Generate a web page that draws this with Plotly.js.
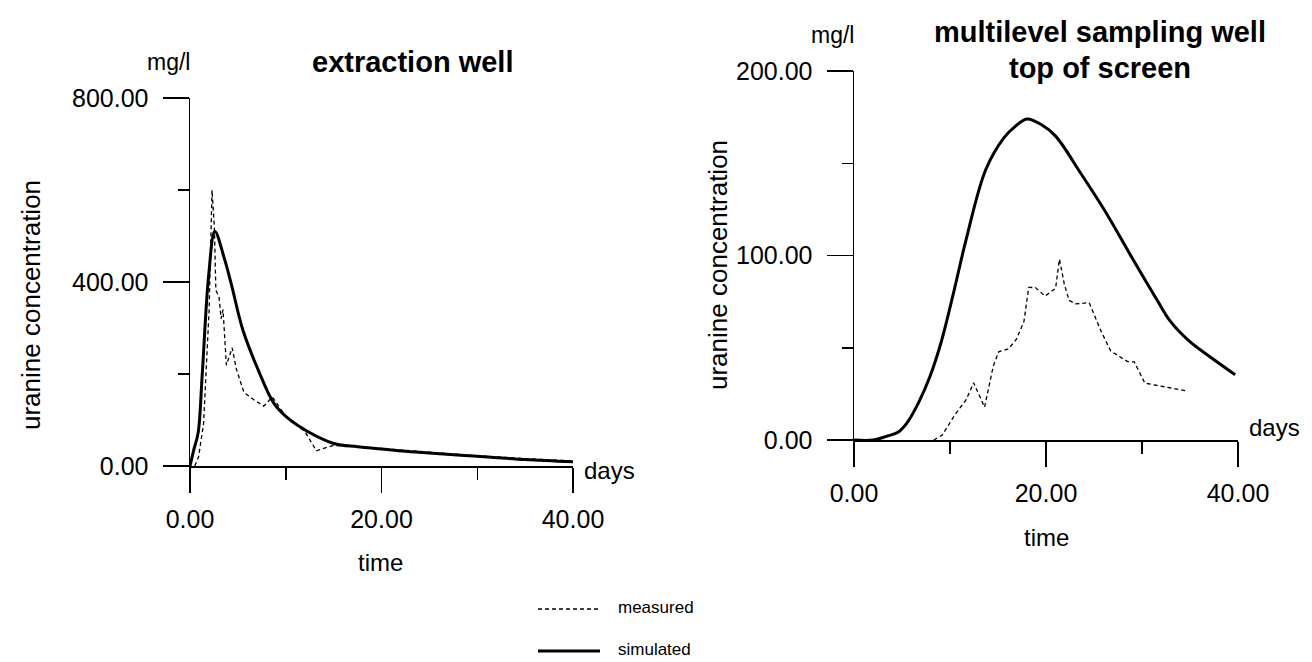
<!DOCTYPE html>
<html><head><meta charset="utf-8">
<script src="https://cdn.plot.ly/plotly-3.0.1.min.js"></script>
<style>html,body{margin:0;padding:0;background:#fff;}#chart{width:1312px;height:662px;}</style>
</head><body><div id="chart"></div>
<script>
// Extraction well (left panel)
const extMeasuredDays = [0.5, 0.9, 1.42, 1.7, 2.0, 2.3, 2.55, 2.7, 3.03, 3.25, 3.45, 3.8, 4.4, 4.84, 5.63, 6.6, 7.7, 8.6, 10.1, 12.0, 13.2, 15, 17.5, 20, 25, 30, 35, 40];
const extMeasuredConc = [0, 20, 93, 200, 341, 600, 517, 382, 368, 320, 340, 219, 257, 211, 160, 145, 130, 150, 105, 75, 33, 45, 42, 38, 30, 22, 16, 11];
const extSimDays = [0, 0.42, 0.85, 1.28, 1.94, 2.6, 3.56, 4.32, 5.53, 7.14, 8.77, 10.1, 12.2, 15, 17.5, 20, 22.5, 25, 30, 35, 40];
const extSimConc = [0, 37, 72, 200, 412, 510, 453, 395, 295, 208, 136, 106, 76, 49, 42, 37, 32, 28, 21, 14, 9];

// Multilevel sampling well, top of screen (right panel)
const mlsMeasuredDays = [8.3, 9.2, 10.55, 11.67, 12.46, 13.6, 14.5, 15.07, 16.1, 16.9, 17.7, 18.2, 18.9, 19.9, 21.0, 21.4, 21.9, 22.4, 23.06, 24.5, 25.8, 26.75, 28.5, 29.2, 30.3, 34.5];
const mlsMeasuredConc = [0, 2.7, 14, 21.7, 31, 17.8, 39.9, 47.8, 49.4, 54.5, 64.2, 82.7, 82.6, 78, 82.2, 98, 84.7, 75.7, 73.8, 74.4, 58.2, 48.2, 42.5, 42.3, 30.8, 26.8];
const mlsSimDays = [0, 2, 3.37, 4.63, 5.56, 6.7, 7.88, 9.1, 10.37, 11.65, 13.73, 15.65, 16.8, 18.0, 19.5, 21, 23.6, 26.3, 28.9, 31.6, 32.9, 34.9, 37, 39.7];
const mlsSimConc = [0, 0, 2, 4.4, 9.6, 20, 34, 53.4, 79.8, 108, 146.6, 164, 170, 174, 171, 164.7, 144.7, 122.8, 99.3, 75.6, 64.7, 53.7, 45.4, 35.4];

const W = 1312, H = 662;
const PX = x => x / W;
const PY = y => 1 - y / H;
const FONT = 'Liberation Sans, Arial, sans-serif';

const dashStyle = {color: '#000', width: 1.3, dash: '4px,3px'};
const solidStyle = {color: '#000', width: 3, shape: 'spline', smoothing: 1};

const traces = [
  {x: extMeasuredDays, y: extMeasuredConc, xaxis: 'x', yaxis: 'y', mode: 'lines', line: dashStyle, name: 'measured'},
  {x: extSimDays, y: extSimConc, xaxis: 'x', yaxis: 'y', mode: 'lines', line: solidStyle, name: 'simulated'},
  {x: mlsMeasuredDays, y: mlsMeasuredConc, xaxis: 'x2', yaxis: 'y2', mode: 'lines', line: dashStyle, name: 'measured'},
  {x: mlsSimDays, y: mlsSimConc, xaxis: 'x2', yaxis: 'y2', mode: 'lines', line: solidStyle, name: 'simulated'}
];

function xAxis(domain, anchor) {
  return {
    domain: domain, anchor: anchor, range: [0, 40], tick0: 0, dtick: 20,
    tickformat: '.2f', showline: true, linecolor: '#000', linewidth: 1.5,
    ticks: 'outside', ticklen: 25, tickwidth: 1.5, tickcolor: '#000', ticklabelstandoff: 5,
    minor: {dtick: 10, ticks: 'outside', ticklen: 12, tickwidth: 1.5, tickcolor: '#000'},
    showgrid: false, zeroline: false, fixedrange: true,
    tickfont: {family: FONT, size: 25, color: '#000'}
  };
}
function yAxis(domain, anchor, max, dt) {
  return {
    domain: domain, anchor: anchor, range: [0, max], tick0: 0, dtick: dt,
    tickformat: '.2f', showline: true, linecolor: '#000', linewidth: 1.5,
    ticks: 'outside', ticklen: 26, tickwidth: 1.5, tickcolor: '#000', ticklabelstandoff: 9,
    minor: {dtick: dt / 2, ticks: 'outside', ticklen: 11, tickwidth: 1.5, tickcolor: '#000'},
    showgrid: false, zeroline: false, fixedrange: true,
    tickfont: {family: FONT, size: 25, color: '#000'}
  };
}

function txt(text, x, y, size, opts) {
  return Object.assign({text: text, x: PX(x), y: PY(y), xref: 'paper', yref: 'paper',
    showarrow: false, xanchor: 'center', yanchor: 'middle',
    font: {family: FONT, size: size, color: '#000'}}, opts || {});
}

const annotations = [
  txt('mg/l', 168, 62, 23),
  txt('<b>extraction well</b>', 413, 62, 29),
  txt('days', 582, 470, 24, {xanchor: 'left'}),
  txt('time', 380, 562, 24),
  txt('uranine concentration', 31, 305, 26, {textangle: -90}),
  txt('mg/l', 832, 35, 23),
  txt('<b>multilevel sampling well</b>', 1100, 32, 29),
  txt('<b>top of screen</b>', 1100, 68, 29),
  txt('days', 1247, 428, 24, {xanchor: 'left'}),
  txt('time', 1046, 537, 24),
  txt('uranine concentration', 718, 265, 26, {textangle: -90}),
  txt('measured', 616, 607, 17, {xanchor: 'left'}),
  txt('simulated', 616, 649, 17, {xanchor: 'left'})
];

const shapes = [
  {type: 'line', xref: 'paper', yref: 'paper', x0: PX(538), x1: PX(600), y0: PY(609), y1: PY(609), line: {color: '#000', width: 1.3, dash: '4px,3px'}},
  {type: 'line', xref: 'paper', yref: 'paper', x0: PX(538), x1: PX(600), y0: PY(651), y1: PY(651), line: {color: '#000', width: 3}}
];

const layout = {
  width: W, height: H, margin: {l: 0, r: 0, t: 0, b: 0},
  paper_bgcolor: '#fff', plot_bgcolor: '#fff', showlegend: false,
  xaxis: xAxis([PX(190), PX(573)], 'y'),
  yaxis: yAxis([PY(466), PY(98)], 'x', 800, 400),
  xaxis2: xAxis([PX(854), PX(1238)], 'y2'),
  yaxis2: yAxis([PY(440), PY(71)], 'x2', 200, 100),
  annotations: annotations, shapes: shapes,
  font: {family: FONT, color: '#000'}
};

Plotly.newPlot('chart', traces, layout, {displayModeBar: false, staticPlot: true});
</script>
</body></html>
